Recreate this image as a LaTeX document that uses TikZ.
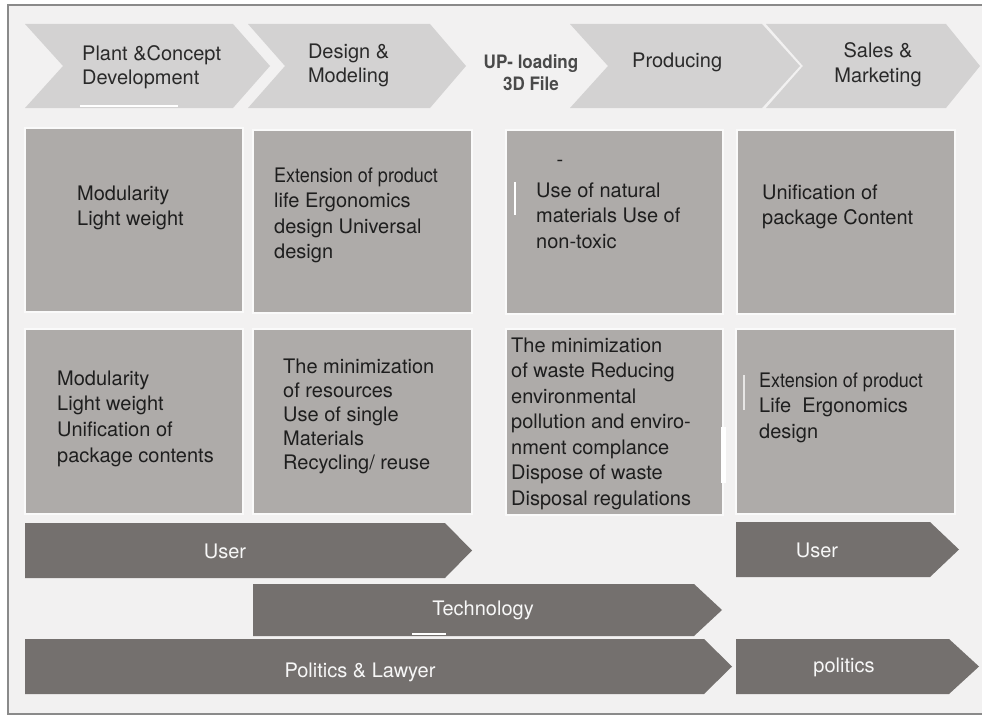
\documentclass[tikz,border=0pt]{standalone}
\usepackage{fontspec}
\setmainfont{TeX Gyre Heros}
\definecolor{bgc}{HTML}{F2F1F1}
\definecolor{framec}{HTML}{8A8A8A}
\definecolor{chevc}{HTML}{D3D2D2}
\definecolor{boxc}{HTML}{AEABA9}
\definecolor{arrc}{HTML}{74706E}
\definecolor{txtc}{HTML}{1E1E1E}
\definecolor{hdc}{HTML}{2A2A2A}
\tikzset{
  chev/.style={fill=chevc},
  cell/.style={fill=boxc, draw=white!96!gray, line width=1.2},
  band/.style={fill=arrc},
  celltext/.style={anchor=north west, inner sep=0, align=left, text=txtc,
    font=\fontsize{20}{25.5}\selectfont},
  hdtext/.style={anchor=north west, inner sep=0, align=left, text=hdc,
    font=\fontsize{20}{24.5}\selectfont},
  bandtext/.style={anchor=base, inner sep=0, text=white!94!gray,
    font=\fontsize{20}{24}\selectfont},
  flaw/.style={draw=white, line width=1.5}
}
\newcommand{\st}{\rule{0pt}{15pt}}
\begin{document}
\begin{tikzpicture}[x=1pt,y=-1pt]
\useasboundingbox (0,0) rectangle (982,717);
\fill[white] (0,0) rectangle (982,717);
\fill[bgc] (8,5) rectangle (982,714);
\draw[framec, line width=1.2] (982,5) -- (8,5) -- (8,714) -- (982,714);

% top chevrons
\fill[chev] (25,24) -- (233,24) -- (270,66) -- (233,108) -- (25,108) -- (63,66) -- cycle;
\fill[chev] (248,24) -- (430,24) -- (466,66) -- (430,108) -- (248,108) -- (285,66) -- cycle;
\fill[chev] (570,24) -- (762,24) -- (800,66) -- (762,108) -- (570,108) -- (608,66) -- cycle;
\fill[chev] (766,24) -- (946,24) -- (980,66) -- (946,108) -- (766,108) -- (803,66) -- cycle;
\draw[flaw] (80,106) -- (178,106);

\node[hdtext] (h1) at (82,45) {\st Plant \&Concept\\Development};
\node[hdtext, line width=0] (h2) at (308,43) {\st Design \&\\Modeling};
\node[anchor=north, inner sep=0, align=center, text=hdc!85!white,
  font=\fontsize{18.5}{22}\selectfont\bfseries] (h3) at (531,53)
  {\rule{0pt}{15pt}\scalebox{0.92}[1]{UP- loading}\\\scalebox{0.92}[1]{3D File}};
\node[hdtext] (h4) at (632,52) {\st Producing};
\node[anchor=north, inner sep=0, align=center, text=hdc,
  font=\fontsize{20}{25}\selectfont] (h5) at (878,42) {\st Sales \&\\Marketing};

% row 1 cells
\fill[cell] (25,128) rectangle (243,312);
\fill[cell] (253,130) rectangle (472,313);
\fill[cell] (506,130) rectangle (723,314);
\fill[cell] (737,130) rectangle (955,314);
% row 2 cells
\fill[cell] (25,329) rectangle (243,514);
\fill[cell] (253,329) rectangle (472,514);
\fill[cell] (506,329) rectangle (723,515);
\fill[cell] (736,329) rectangle (955,514);

\draw[flaw] (515,182) -- (515,215);
\draw[draw=white!70!boxc, line width=1.2] (744,375) -- (744,410);
\fill[white] (721,427) rectangle (726,483);

\node[celltext] (c11) at (77,185) {\st Modularity\\Light weight};
\node[celltext] (c12) at (274,167) {\st\scalebox{0.9}[1]{Extension of product}\\life Ergonomics\\design Universal\\design};
\node[inner sep=0, text=txtc, font=\fontsize{20}{24}\selectfont] (c13d) at (560,163) {-};
\node[celltext] (c13) at (536,182) {\st Use of natural\\materials Use of\\non-toxic};
\node[celltext] (c14) at (762,184) {\st Unification of\\package Content};

\node[celltext, font=\fontsize{20}{25.7}\selectfont] (c21) at (57,370) {\st Modularity\\Light weight\\Unification of\\package contents};
\node[celltext, font=\fontsize{20}{24}\selectfont] (c22) at (283,358) {\st The minimization\\of resources\\Use of single\\Materials\\Recycling/ reuse};
\node[celltext] (c23) at (511,337) {\st The minimization\\of waste Reducing\\environmental\\pollution and enviro-\\nment complance\\Dispose of waste\\Disposal regulations};
\node[celltext] (c24) at (759,372) {\st\scalebox{0.9}[1]{Extension of product}\\Life\ \ Ergonomics\\design};

% bottom bands
\fill[band] (25,523) -- (445,523) -- (472,550.5) -- (445,578) -- (25,578) -- cycle;
\fill[band] (253,584) -- (694,584) -- (722,610) -- (694,636) -- (253,636) -- cycle;
\fill[band] (25,639) -- (704,639) -- (732,666.5) -- (704,694) -- (25,694) -- cycle;
\fill[band] (736,522) -- (930,522) -- (959,549.5) -- (930,577) -- (736,577) -- cycle;
\fill[band] (736,639) -- (949,639) -- (979,666.5) -- (949,694) -- (736,694) -- cycle;
\draw[flaw, line width=1.2] (412,634) -- (446,634);

\node[bandtext] (b1) at (225,558) {User};
\node[bandtext] (b2) at (483,615) {Technology};
\node[bandtext] (b3) at (360,677) {Politics \& Lawyer};
\node[bandtext] (b4) at (817,557) {User};
\node[bandtext] (b5) at (844,672) {politics};
\end{tikzpicture}
\end{document}
